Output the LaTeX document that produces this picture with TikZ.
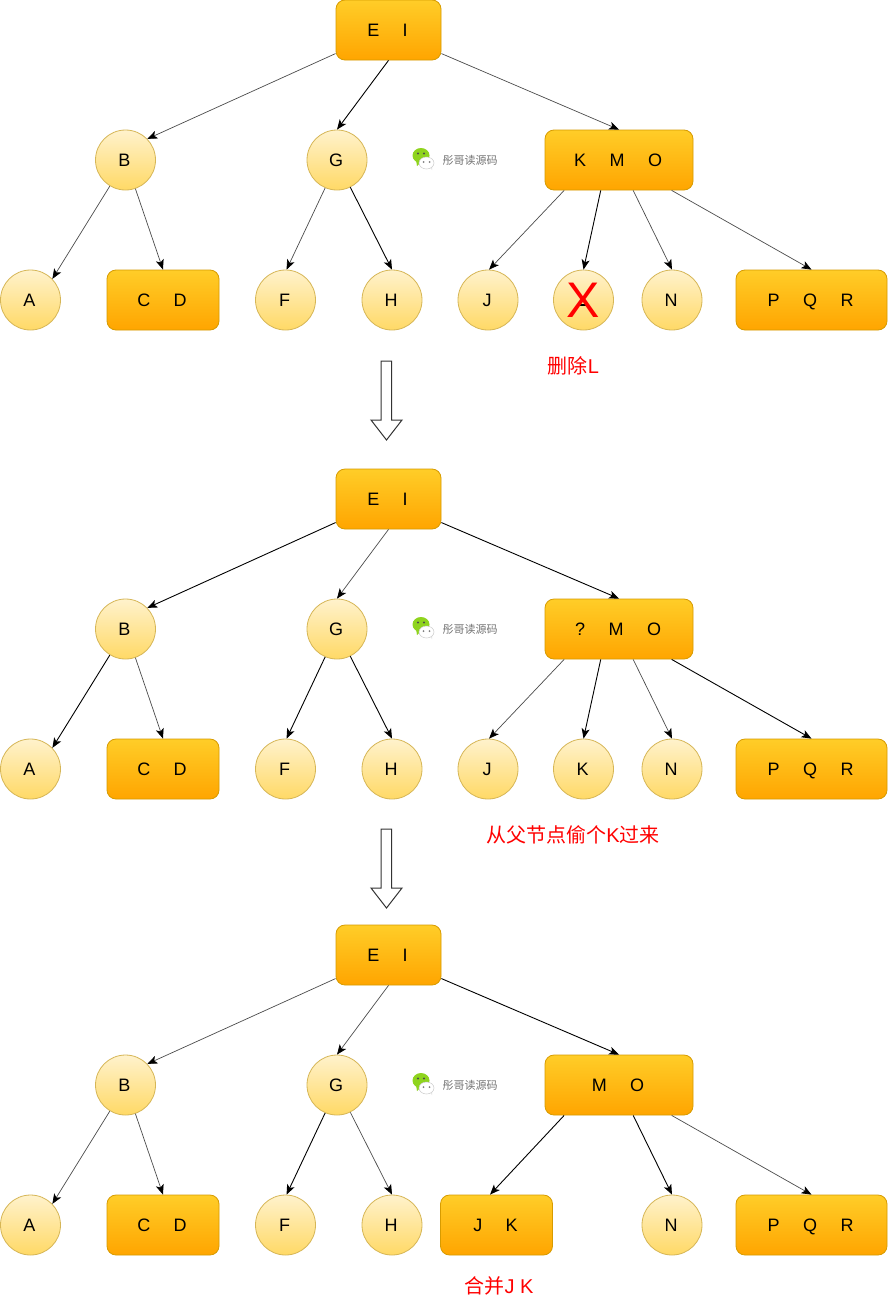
\documentclass[tikz,border=0pt]{standalone}
\usepackage{fontspec}
\setmainfont{Liberation Sans}
\newfontfamily\cjk{Noto Sans CJK SC}
\usetikzlibrary{arrows.meta}
\definecolor{circtop}{HTML}{FFF2CC}
\definecolor{circbot}{HTML}{FFD966}
\definecolor{circline}{HTML}{D6B656}
\definecolor{boxtop}{HTML}{FFCD28}
\definecolor{boxbot}{HTML}{FFA500}
\definecolor{boxline}{HTML}{D79B00}
\definecolor{logogreen}{HTML}{8FD41E}
\newcommand{\gp}{\hspace{23.5pt}}
\tikzset{
  x=1pt, y=-1pt,
  label font/.style={font=\fontsize{18}{20}\selectfont, text height=13pt, text depth=0pt,
    execute at end node={\kern2pt}},
  ball/.style={circle, draw=circline, line width=0.8pt, top color=circtop, bottom color=circbot,
    minimum size=60pt, inner sep=0pt, label font},
  keybox/.style={rectangle, rounded corners=9pt, draw=boxline, line width=0.8pt, top color=boxtop, bottom color=boxbot,
    minimum height=60pt, inner sep=0pt, label font},
  tip/.style={-{Stealth[length=10pt,width=8pt,inset=2.5pt,black]}},
  faint/.style={tip, draw=black!70, line width=0.7pt},
  dark/.style={tip, draw=black, line width=0.9pt},
  note/.style={text=red, font=\fontsize{20}{24}\selectfont, inner sep=0pt},
  step arrow/.style={draw=black!80, fill=white, line width=1pt, line join=miter},
  brand/.style={text=black!55, font=\cjk\fontsize{11}{13}\selectfont, inner sep=0pt},
}
% small chat-bubble logo with the account name beside it
\newcommand{\brandmark}[2]{%
  \begin{scope}[shift={(#1,#2)}]
    \fill[logogreen] (421,155.5) ellipse [x radius=8.5, y radius=7.5];
    \fill[logogreen] (416,160) -- (417,166) -- (421,162) -- cycle;
    \fill[black!70] (418,153.5) circle (1.1) (424,153.5) circle (1.1);
    \fill[black!10] (429,166) -- (432,170) -- (432,165) -- cycle;
    \filldraw[fill=white, draw=black!20, line width=0.5pt] (426.5,163) ellipse [x radius=7.5, y radius=6];
    \fill[black!50] (423.5,162) circle (1) (429.5,162) circle (1);
    \node[brand] (#2brand) at (470,160) {彤哥读源码};
  \end{scope}%
}
% hollow block arrow between two stages
\newcommand{\stagearrow}[1]{%
  \draw[step arrow] (381,#1) -- (391.5,#1) -- (391.5,#1+59) -- (402,#1+59)
    -- (386.5,#1+79) -- (371,#1+59) -- (381,#1+59) -- cycle;
}
\begin{document}
\begin{tikzpicture}
\useasboundingbox (0,0) rectangle (888,1301);
\fill[white] (0,0) rectangle (888,1301);

% first stage: the key is removed
\node[keybox, minimum width=105pt] (r1) at (388.5,30) {E\gp I};
\node[ball] (b1) at (125.5,160) {B};
\node[ball] (g1) at (337,160) {G};
\node[keybox, minimum width=148pt] (m1) at (619,160) {K\gp M\gp O};
\node[ball] (a1) at (30.5,300) {A};
\node[keybox, minimum width=112pt] (c1) at (163,300) {C\gp D};
\node[ball] (f1) at (285.5,300) {F};
\node[ball] (h1) at (392,300) {H};
\node[ball] (j1) at (488,300) {J};
\node[ball] (k1) at (583.5,300) {};
\node[ball] (n1) at (672,300) {N};
\node[keybox, minimum width=151pt] (p1) at (811.5,300) {P\gp Q\gp R};
\fill[black] (578,304) rectangle (587,306);
\node[text=red, inner sep=0pt, font=\fontsize{50}{50}\selectfont] (x1) at (k1) {X};

\draw[faint] (r1.204.6) -- (b1.44);
\draw[dark]  (r1.south) -- (g1.north);
\draw[faint] (r1.336.4) -- (m1.north);
\draw[faint] (b1.239) -- (a1.44);
\draw[faint] (b1.289) -- (c1.north);
\draw[faint] (g1.247) -- (f1.88);
\draw[dark]  (g1.296) -- (h1.north);
\draw[faint] (m1.209.5) -- (j1.88);
\draw[dark]  (m1.239) -- (k1.north);
\draw[faint] (m1.295) -- (n1.north);
\draw[faint] (m1.330) -- (p1.north);

\brandmark{0}{0}
\node[note] (t1) at (573.5,366) {{\cjk 删除}L};
\stagearrow{361}

% second stage: a key is borrowed from the parent
\node[keybox, minimum width=105pt] (r2) at (388.5,499) {E\gp I};
\node[ball] (b2) at (125.5,629) {B};
\node[ball] (g2) at (337,629) {G};
\node[keybox, minimum width=148pt] (m2) at (619,629) {?\gp M\gp O};
\node[ball] (a2) at (30.5,769) {A};
\node[keybox, minimum width=112pt] (c2) at (163,769) {C\gp D};
\node[ball] (f2) at (285.5,769) {F};
\node[ball] (h2) at (392,769) {H};
\node[ball] (j2) at (488,769) {J};
\node[ball] (k2) at (583.5,769) {K};
\node[ball] (n2) at (672,769) {N};
\node[keybox, minimum width=151pt] (p2) at (811.5,769) {P\gp Q\gp R};

\draw[dark]  (r2.204.6) -- (b2.44);
\draw[faint] (r2.south) -- (g2.north);
\draw[dark]  (r2.336.4) -- (m2.north);
\draw[dark]  (b2.239) -- (a2.44);
\draw[faint] (b2.289) -- (c2.north);
\draw[dark]  (g2.247) -- (f2.88);
\draw[dark]  (g2.296) -- (h2.north);
\draw[faint] (m2.209.5) -- (j2.88);
\draw[dark]  (m2.239) -- (k2.north);
\draw[faint] (m2.295) -- (n2.north);
\draw[dark]  (m2.330) -- (p2.north);

\brandmark{0}{469}
\node[note] (t2) at (573,835) {{\cjk 从父节点偷个}K{\cjk 过来}};
\stagearrow{829}

% third stage: the two leaves are merged
\node[keybox, minimum width=105pt] (r3) at (388.5,955) {E\gp I};
\node[ball] (b3) at (125.5,1085) {B};
\node[ball] (g3) at (337,1085) {G};
\node[keybox, minimum width=148pt] (m3) at (619,1085) {M\gp O};
\node[ball] (a3) at (30.5,1225) {A};
\node[keybox, minimum width=112pt] (c3) at (163,1225) {C\gp D};
\node[ball] (f3) at (285.5,1225) {F};
\node[ball] (h3) at (392,1225) {H};
\node[keybox, minimum width=112pt] (j3) at (496.5,1225) {J\gp K};
\node[ball] (n3) at (672,1225) {N};
\node[keybox, minimum width=151pt] (p3) at (811.5,1225) {P\gp Q\gp R};

\draw[faint] (r3.204.6) -- (b3.44);
\draw[faint] (r3.south) -- (g3.north);
\draw[dark]  (r3.336.4) -- (m3.north);
\draw[faint] (b3.239) -- (a3.44);
\draw[faint] (b3.289) -- (c3.north);
\draw[dark]  (g3.247) -- (f3.88);
\draw[faint] (g3.296) -- (h3.north);
\draw[dark]  (m3.209.5) -- (j3.102);
\draw[dark]  (m3.295) -- (n3.north);
\draw[faint] (m3.330) -- (p3.north);

\brandmark{0}{925}
\node[note] (t3) at (499,1286) {{\cjk 合并}J K};
\end{tikzpicture}
\end{document}
